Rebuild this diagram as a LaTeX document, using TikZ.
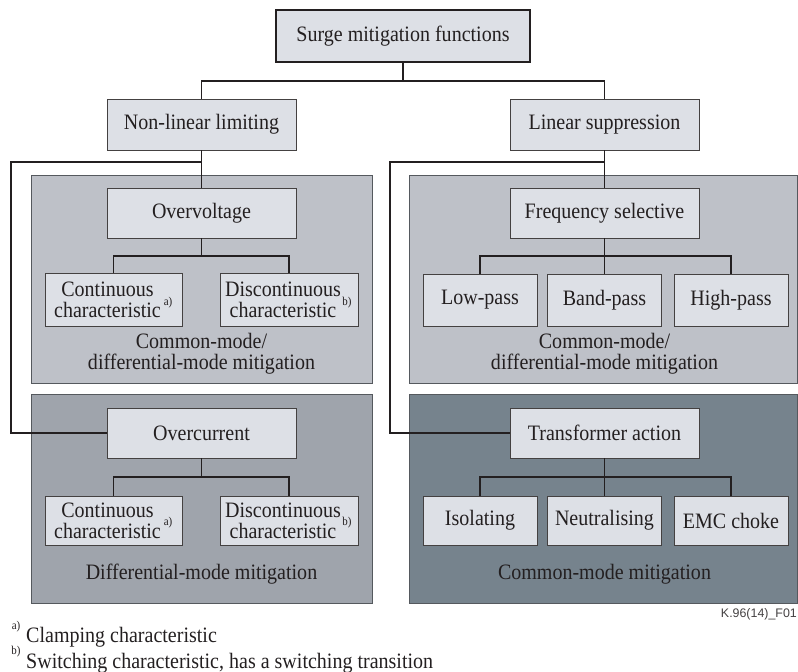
\documentclass[tikz,border=0pt]{standalone}
\usepackage{fontspec}
\setmainfont{Liberation Serif}[FakeStretch=0.91]
\newfontfamily\figsans{Liberation Sans}
\definecolor{boxfill}{HTML}{DDE0E6}
\definecolor{paneltop}{HTML}{BEC1C8}
\definecolor{panelbl}{HTML}{9FA4AC}
\definecolor{panelbr}{HTML}{76838D}
\definecolor{ink}{HTML}{231F20}
\definecolor{edgec}{HTML}{55595E}
\tikzset{
  box/.style={draw=ink!85, line width=0.9pt, fill=boxfill, inner sep=0pt, align=center, text=ink},
  wire/.style={draw=ink, line width=1.8pt, line join=miter},
  panel/.style={draw=edgec, line width=0.8pt},
  supl/.style={font=\fontsize{12}{12}\selectfont, inner sep=0pt, text=ink},
  lbl/.style={inner sep=0pt, align=center, text=ink},
  boxtxt/.style={lbl, font=\fontsize{22}{21}\selectfont},
  paneltxt/.style={lbl, font=\fontsize{22}{21}\selectfont},
}
\begin{document}
\begin{tikzpicture}[x=1pt,y=-1pt,font=\fontsize{22}{19.5}\selectfont]
\useasboundingbox (0,0) rectangle (798,672);
% panels
\draw[panel, fill=paneltop] (31,175) rectangle (372,383);
\draw[panel, fill=paneltop] (409,175) rectangle (797,383);
\draw[panel, fill=panelbl] (31,394) rectangle (372,603);
\draw[panel, fill=panelbr] (409,394) rectangle (797,603);
% boxes
\node[box, line width=1.6pt, draw=ink, minimum width=254pt, minimum height=52pt] (top) at (403,36) {Surge mitigation functions};
\node[box, minimum width=189pt, minimum height=51pt] (nll) at (201.5,124.5) {Non-linear limiting};
\node[box, minimum width=189pt, minimum height=51pt] (ls) at (604.5,124.5) {Linear suppression};
\node[box, minimum width=189pt, minimum height=50pt] (ov) at (201.5,213) {Overvoltage};
\node[box, minimum width=189pt, minimum height=50pt] (fs) at (604.5,213) {Frequency selective};
\node[box, minimum width=189pt, minimum height=50pt] (oc) at (201.5,433) {Overcurrent};
\node[box, minimum width=189pt, minimum height=50pt] (ta) at (604.5,433) {Transformer action};
\node[box, minimum width=137pt, minimum height=53pt] (c1) at (113.5,299.5) {};
\node[box, minimum width=138pt, minimum height=53pt] (d1) at (289,299.5) {};
\node[box, minimum width=137pt, minimum height=49pt] (c2) at (113.5,520.5) {};
\node[box, minimum width=138pt, minimum height=49pt] (d2) at (289,520.5) {};
\node[box, minimum width=114pt, minimum height=52pt] (lp) at (480,300) {Low-pass};
\node[box, minimum width=114pt, minimum height=52pt] (bp) at (604.5,300) {Band-pass};
\node[box, minimum width=114pt, minimum height=52pt] (hp) at (731,300) {High-pass};
\node[box, minimum width=114pt, minimum height=49pt] (iso) at (480,520.5) {Isolating};
\node[box, minimum width=114pt, minimum height=49pt] (neu) at (604.5,520.5) {Neutralising};
\node[box, minimum width=114pt, minimum height=49pt] (emc) at (731,520.5) {EMC choke};
% texts in characteristic boxes
\node[boxtxt] (c1t) at ([xshift=-6pt]c1.center) {Continuous\\characteristic};
\node[boxtxt] (d1t) at ([xshift=-6pt]d1.center) {Discontinuous\\characteristic};
\node[boxtxt] (c2t) at ([xshift=-6pt]c2.center) {Continuous\\characteristic};
\node[boxtxt] (d2t) at ([xshift=-6pt]d2.center) {Discontinuous\\characteristic};
\node[supl] (c1s) at (168,303) {a)};
\node[supl] (d1s) at (347,303) {b)};
\node[supl] (c2s) at (168,523) {a)};
\node[supl] (d2s) at (347,523) {b)};
% panel labels
\node[paneltxt] (pl1) at (201.5,354) {Common-mode/\\differential-mode mitigation};
\node[paneltxt] (pl2) at (604.5,354) {Common-mode/\\differential-mode mitigation};
\node[lbl, anchor=base] (pl3) at (201.5,579) {Differential-mode mitigation};
\node[lbl, anchor=base] (pl4) at (604.5,579) {Common-mode mitigation};
% connectors
\coordinate (tj) at (403,81);
\draw[wire] (top.south) -- (tj);
\draw[wire] (nll.north) |- (tj) -| (ls.north);
\coordinate (jl) at (11,162);
\coordinate (jr) at (390,162);
\draw[wire] (nll.south) -- (ov.north);
\draw[wire] (nll.south |- jl) -- (jl) |- (oc.west);
\draw[wire] (ls.south) -- (fs.north);
\draw[wire] (ls.south |- jr) -- (jr) |- (ta.west);
\coordinate (j1) at (201.5,256);
\coordinate (j2) at (201.5,477);
\coordinate (j3) at (604.5,256);
\coordinate (j4) at (604.5,477);
\draw[wire] (ov.south) -- (j1);
\draw[wire] (c1.north) |- (j1) -| (d1.north);
\draw[wire] (oc.south) -- (j2);
\draw[wire] (c2.north) |- (j2) -| (d2.north);
\draw[wire] (fs.south) -- (bp.north);
\draw[wire] (lp.north) |- (j3) -| (hp.north);
\draw[wire] (ta.south) -- (neu.north);
\draw[wire] (iso.north) |- (j4) -| (emc.north);
% figure id
\node[inner sep=0pt, anchor=east, font=\figsans\fontsize{12.4}{12.4}\selectfont, text=ink!85] (fid) at (797,614) {K.96(14)\_F01};
% footnotes
\node[supl, anchor=center] (fa) at (16,627) {a)};
\node[lbl, anchor=base west] (fat) at (26,642) {Clamping characteristic};
\node[supl, anchor=center] (fb) at (16,652) {b)};
\node[lbl, anchor=base west] (fbt) at (26,668) {Switching characteristic, has a switching transition};
\end{tikzpicture}
\end{document}
